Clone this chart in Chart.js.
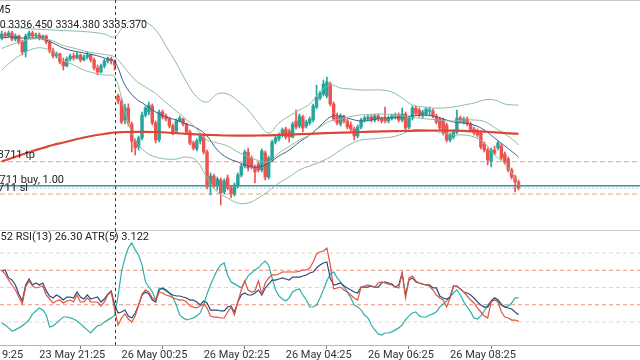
<!DOCTYPE html>
<html>
<head>
<meta charset="utf-8">
<title>XAUUSD M5</title>
<script src="https://cdn.jsdelivr.net/npm/chart.js@4.4.1/dist/chart.umd.min.js"></script>
<style>
  html, body { margin: 0; padding: 0; background: #fff; }
  canvas { display: block; }
</style>
</head>
<body>
<canvas id="chart" width="640" height="360"></canvas>
<script>
// -------------------- DATA --------------------
const slotCount = 187; // 5-minute slots across the window
const tickSlots = [-13, 11, 35, 59, 83, 107, 131];
const tickLabels = ["23 May 19:25", "23 May 21:25", "26 May 00:25", "26 May 02:25", "26 May 04:25", "26 May 06:25", "26 May 08:25"];

const opens = [
  3340.8, 3341.6, 3341.2, 3341.8, 3340.6, 3341.2, 3340.0, 3338.0, 3341.2, 3341.8,
  3341.2, 3341.4, 3340.8, 3341.2, 3340.0, 3338.2, 3337.2, 3337.6, 3336.0, 3335.2,
  3336.6, 3337.2, 3336.8, 3337.4, 3336.4, 3337.0, 3337.4, 3336.4, 3334.8, 3334.0,
  3335.2, 3336.2, 3336.6, 3336.04, 3329.2, 3328.2, 3324.4, 3326.8, 3323.6, 3320.2,
  3319.0, 3320.8, 3325.4, 3326.0, 3327.2, 3323.8, 3320.4, 3326.0, 3325.2, 3324.6,
  3323.2, 3322.2, 3324.2, 3324.6, 3323.6, 3322.0, 3319.8, 3318.6, 3320.2, 3321.0,
  3318.0, 3311.6, 3313.2, 3311.4, 3312.4, 3310.0, 3312.8, 3310.8, 3309.6, 3311.2,
  3313.4, 3315.2, 3318.0, 3316.8, 3315.0, 3315.6, 3314.4, 3317.8, 3313.0, 3316.4,
  3320.0, 3320.6, 3321.4, 3322.6, 3322.2, 3321.0, 3324.2, 3323.2, 3325.0, 3323.2,
  3323.8, 3324.4, 3327.0, 3328.8, 3329.6, 3329.2, 3331.6, 3327.6, 3325.0, 3323.6,
  3325.0, 3324.2, 3323.4, 3322.6, 3321.2, 3323.0, 3324.4, 3324.6, 3325.0, 3324.4,
  3325.2, 3324.6, 3324.8, 3324.2, 3324.8, 3325.2, 3325.4, 3324.4, 3325.6, 3323.0,
  3324.8, 3326.8, 3326.4, 3325.4, 3325.6, 3326.2, 3326.2, 3325.2, 3324.6, 3324.4,
  3323.4, 3320.4, 3321.0, 3322.0, 3324.8, 3324.0, 3324.6, 3323.6, 3322.6, 3322.2,
  3321.8, 3319.6, 3318.4, 3316.2, 3318.4, 3318.8, 3319.2, 3317.6, 3316.6, 3314.4,
  3313.0, 3312.0
];
const highs = [
  3342.2, 3342.0, 3342.2, 3342.2, 3341.6, 3341.4, 3340.4, 3341.6, 3342.2, 3342.2,
  3341.8, 3341.8, 3341.4, 3341.4, 3340.4, 3338.8, 3338.0, 3337.8, 3336.8, 3337.0,
  3337.6, 3337.8, 3338.0, 3337.6, 3337.4, 3338.0, 3337.6, 3336.8, 3335.4, 3335.6,
  3336.6, 3337.0, 3337.0, 3336.45, 3329.6, 3328.8, 3327.6, 3327.6, 3324.0, 3320.6,
  3321.2, 3326.0, 3327.2, 3328.0, 3327.6, 3324.2, 3326.4, 3326.4, 3325.6, 3325.0,
  3323.6, 3324.6, 3325.2, 3324.8, 3323.8, 3322.4, 3320.2, 3320.6, 3321.6, 3321.4,
  3318.4, 3313.8, 3313.6, 3313.0, 3312.8, 3312.6, 3313.4, 3311.2, 3311.8, 3313.8,
  3315.6, 3318.4, 3318.8, 3317.2, 3315.4, 3316.0, 3318.6, 3318.2, 3317.2, 3320.4,
  3321.2, 3321.8, 3322.8, 3323.0, 3322.6, 3324.0, 3326.4, 3325.6, 3325.4, 3324.4,
  3325.0, 3327.6, 3331.4, 3330.2, 3332.4, 3333.0, 3332.0, 3328.0, 3325.8, 3325.6,
  3325.4, 3324.6, 3324.0, 3323.0, 3323.4, 3324.8, 3325.2, 3325.4, 3325.4, 3325.6,
  3325.6, 3325.0, 3327.0, 3325.2, 3325.6, 3325.8, 3325.8, 3326.8, 3326.0, 3325.2,
  3327.2, 3327.2, 3326.8, 3326.4, 3327.0, 3327.0, 3326.6, 3325.6, 3325.0, 3324.8,
  3323.8, 3321.8, 3322.4, 3326.4, 3325.2, 3325.0, 3325.0, 3324.0, 3323.0, 3322.6,
  3322.2, 3320.0, 3318.8, 3318.8, 3319.2, 3320.2, 3319.6, 3318.0, 3317.0, 3314.8,
  3313.4, 3312.4
];
const lows = [
  3340.4, 3340.8, 3341.0, 3340.2, 3340.2, 3339.6, 3337.4, 3337.0, 3340.8, 3340.8,
  3340.8, 3340.4, 3340.4, 3339.6, 3337.8, 3336.8, 3336.8, 3335.6, 3334.4, 3335.0,
  3336.2, 3336.4, 3336.6, 3336.0, 3336.2, 3336.6, 3336.0, 3334.4, 3333.4, 3333.8,
  3334.8, 3335.8, 3335.6, 3334.38, 3327.6, 3323.6, 3323.6, 3323.2, 3318.0, 3317.4,
  3318.4, 3320.4, 3325.0, 3325.4, 3323.4, 3319.8, 3320.0, 3324.6, 3324.2, 3322.8,
  3321.4, 3321.8, 3324.0, 3323.2, 3321.6, 3319.4, 3318.4, 3318.2, 3319.6, 3317.6,
  3310.6, 3309.4, 3310.8, 3310.4, 3307.4, 3309.6, 3310.4, 3308.8, 3309.2, 3310.8,
  3313.0, 3314.8, 3314.2, 3314.6, 3311.8, 3314.0, 3314.0, 3312.4, 3312.6, 3316.0,
  3319.6, 3320.2, 3321.0, 3320.6, 3320.0, 3320.8, 3322.6, 3322.8, 3322.0, 3322.8,
  3323.4, 3324.0, 3326.6, 3328.4, 3329.2, 3328.8, 3327.2, 3324.2, 3323.4, 3323.2,
  3323.8, 3322.6, 3322.2, 3320.4, 3320.8, 3322.6, 3324.0, 3324.2, 3324.0, 3324.0,
  3324.2, 3323.8, 3323.8, 3323.8, 3324.4, 3324.6, 3324.0, 3324.0, 3322.2, 3322.6,
  3324.4, 3325.4, 3325.0, 3324.8, 3325.2, 3325.2, 3324.8, 3323.6, 3322.4, 3321.4,
  3320.0, 3320.0, 3320.6, 3321.6, 3323.8, 3323.6, 3323.2, 3322.0, 3321.4, 3321.0,
  3318.6, 3318.0, 3315.4, 3315.0, 3317.4, 3318.4, 3316.4, 3315.6, 3314.0, 3312.6,
  3310.0, 3310.4
];
const closes = [
  3341.6, 3341.2, 3341.8, 3340.6, 3341.2, 3340.0, 3338.0, 3341.2, 3341.8, 3341.2,
  3341.4, 3340.8, 3341.2, 3340.0, 3338.2, 3337.2, 3337.6, 3336.0, 3335.2, 3336.6,
  3337.2, 3336.8, 3337.4, 3336.4, 3337.0, 3337.4, 3336.4, 3334.8, 3334.0, 3335.2,
  3336.2, 3336.6, 3336.2, 3335.37, 3328.2, 3324.0, 3326.8, 3323.8, 3320.2, 3318.8,
  3320.8, 3325.4, 3326.8, 3327.4, 3323.8, 3320.4, 3326.0, 3325.0, 3324.6, 3323.2,
  3322.0, 3324.2, 3324.8, 3323.6, 3322.0, 3319.8, 3318.8, 3320.2, 3321.2, 3318.0,
  3311.2, 3313.2, 3311.4, 3312.6, 3309.8, 3312.2, 3310.8, 3309.6, 3311.4, 3313.4,
  3315.2, 3318.0, 3314.8, 3315.0, 3314.0, 3314.4, 3318.2, 3313.0, 3316.8, 3320.0,
  3320.8, 3321.4, 3322.4, 3321.0, 3321.0, 3323.6, 3323.0, 3325.2, 3322.8, 3324.0,
  3324.6, 3327.2, 3329.0, 3329.8, 3331.6, 3332.0, 3327.6, 3324.6, 3323.8, 3325.2,
  3324.2, 3323.0, 3322.6, 3321.2, 3323.0, 3324.4, 3324.8, 3325.0, 3324.4, 3325.2,
  3324.6, 3324.2, 3324.2, 3324.8, 3325.2, 3325.4, 3324.4, 3325.6, 3322.8, 3324.8,
  3326.8, 3325.8, 3325.4, 3326.0, 3326.6, 3326.4, 3325.2, 3324.0, 3322.8, 3321.8,
  3320.4, 3321.4, 3322.0, 3324.8, 3324.2, 3324.6, 3323.6, 3322.4, 3321.8, 3321.4,
  3319.0, 3318.4, 3316.4, 3318.4, 3317.8, 3319.8, 3316.8, 3316.0, 3314.4, 3313.0,
  3312.0, 3310.8
];

// overlay lines, read every third slot (plus the last candle)
const lineSlots = Array.from({length: 51}, (_, i) => i * 3).concat([151]);
const maSlow = [
  3316.1, 3316.8, 3317.5, 3318.2, 3318.8, 3319.4, 3319.9, 3320.4, 3320.9, 3321.3,
  3321.6, 3321.9, 3322.0, 3322.04, 3322.04, 3322.0, 3321.9, 3321.76, 3321.64, 3321.54,
  3321.44, 3321.36, 3321.3, 3321.28, 3321.28, 3321.3, 3321.34, 3321.4, 3321.48, 3321.56,
  3321.64, 3321.72, 3321.8, 3321.86, 3321.92, 3322.0, 3322.06, 3322.12, 3322.16, 3322.2,
  3322.24, 3322.28, 3322.3, 3322.3, 3322.28, 3322.24, 3322.16, 3322.06, 3321.94, 3321.8,
  3321.68, 3321.64
];
const bbUpper = [
  3343.0, 3342.9, 3342.8, 3342.6, 3342.5, 3342.4, 3342.3, 3342.2, 3342.1, 3341.9,
  3341.6, 3341.0, 3343.6, 3344.4, 3344.0, 3342.4, 3339.2, 3335.8, 3332.0, 3329.0,
  3328.0, 3329.6, 3329.6, 3328.2, 3326.4, 3323.8, 3321.8, 3323.8, 3325.2, 3326.4,
  3327.6, 3330.0, 3331.4, 3330.8, 3330.6, 3330.4, 3330.4, 3330.4, 3330.0, 3328.8,
  3327.4, 3327.0, 3326.8, 3326.8, 3327.0, 3327.4, 3327.8, 3328.4, 3328.4, 3327.6,
  3327.4, 3327.4
];
const bbMiddle = [
  3338.7, 3339.5, 3340.2, 3340.6, 3340.6, 3340.2, 3339.3, 3338.8, 3338.2, 3337.8,
  3337.5, 3337.0, 3334.8, 3332.4, 3331.0, 3329.7, 3327.9, 3326.2, 3324.5, 3322.6,
  3320.4, 3319.8, 3319.2, 3318.0, 3317.1, 3316.3, 3316.0, 3317.8, 3319.1, 3320.4,
  3321.4, 3323.0, 3324.2, 3324.6, 3325.1, 3325.4, 3325.5, 3325.6, 3325.5, 3325.2,
  3324.9, 3324.7, 3324.5, 3324.3, 3324.2, 3324.4, 3324.4, 3324.1, 3322.9, 3321.6,
  3320.1, 3319.4
];
const bbLower = [
  3334.4, 3336.2, 3337.6, 3338.6, 3338.8, 3338.0, 3336.4, 3335.4, 3334.4, 3333.8,
  3333.4, 3333.0, 3326.0, 3320.4, 3318.0, 3317.0, 3316.6, 3316.6, 3317.0, 3316.2,
  3312.8, 3310.0, 3308.8, 3307.8, 3307.8, 3308.8, 3310.2, 3311.8, 3313.0, 3314.4,
  3315.2, 3316.0, 3317.0, 3318.4, 3319.6, 3320.4, 3320.6, 3320.8, 3321.0, 3321.6,
  3322.4, 3322.4, 3322.2, 3321.8, 3321.4, 3321.4, 3321.0, 3319.8, 3317.4, 3315.6,
  3312.8, 3311.4
];
const maFast = [
  3340.8, 3341.0, 3340.8, 3340.8, 3340.6, 3339.8, 3338.8, 3338.2, 3337.8, 3337.4,
  3336.8, 3336.0, 3331.4, 3328.8, 3327.4, 3326.0, 3325.0, 3324.4, 3323.6, 3322.8,
  3321.2, 3318.4, 3316.8, 3316.0, 3315.2, 3315.0, 3315.8, 3317.2, 3318.4, 3320.0,
  3321.4, 3323.2, 3325.0, 3325.2, 3324.6, 3324.2, 3324.4, 3324.8, 3324.8, 3325.0,
  3325.2, 3325.4, 3325.2, 3324.6, 3324.0, 3323.8, 3323.4, 3322.4, 3320.8, 3319.2,
  3317.6, 3317.0
];

// indicator pane
const rsiFast = [
  65.2, 61.7, 56.5, 52.2, 47.8, 41.7, 35.7, 50.4, 55.7, 51.3,
  49.6, 50.4, 51.3, 43.5, 40.0, 36.5, 38.3, 39.1, 36.5, 38.3,
  39.1, 37.4, 43.5, 37.4, 37.4, 40.9, 37.4, 37.4, 37.4, 33.9,
  37.4, 43.5, 46.1, 30.4, 17.4, 23.5, 27.0, 22.6, 20.0, 25.2,
  34.8, 44.3, 47.8, 46.1, 40.9, 39.1, 46.1, 45.2, 43.5, 42.6,
  40.9, 40.0, 39.1, 39.1, 37.4, 33.9, 33.0, 32.2, 33.9, 35.7,
  32.2, 25.2, 24.3, 24.3, 23.5, 23.5, 28.7, 33.0, 26.1, 37.4,
  47.8, 55.7, 47.8, 46.1, 47.0, 55.7, 44.3, 53.9, 58.3, 60.9,
  60.9, 61.7, 63.5, 63.5, 63.5, 63.5, 63.5, 64.3, 65.2, 65.2,
  67.0, 72.2, 79.1, 80.9, 81.7, 84.3, 69.6, 48.7, 49.6, 50.4,
  47.8, 46.1, 43.5, 40.9, 39.1, 50.4, 51.3, 52.2, 51.3, 50.4,
  53.9, 54.8, 53.9, 53.0, 52.2, 50.4, 49.6, 62.6, 40.9, 58.3,
  60.0, 55.7, 53.9, 53.0, 52.2, 51.3, 47.8, 43.5, 40.9, 39.1,
  33.0, 40.9, 51.3, 51.3, 48.7, 46.1, 42.6, 39.1, 36.5, 32.2,
  28.7, 25.2, 23.5, 37.4, 39.1, 37.4, 28.7, 24.3, 23.5, 21.7,
  21.7, 20.52
];
const rsi13 = [
  64.3, 65.2, 58.3, 56.5, 52.2, 44.3, 38.3, 52.2, 57.4, 52.2,
  53.9, 52.2, 53.9, 47.0, 42.6, 40.9, 43.5, 41.7, 39.1, 41.7,
  41.7, 40.9, 46.1, 41.7, 40.0, 43.5, 40.0, 40.9, 41.7, 37.4,
  40.0, 44.3, 47.0, 34.8, 27.8, 28.7, 30.4, 25.2, 23.5, 27.8,
  34.8, 43.5, 46.1, 44.3, 39.1, 37.4, 47.8, 49.6, 47.8, 45.2,
  43.5, 42.6, 42.6, 41.7, 40.9, 39.1, 39.1, 37.4, 34.8, 38.3,
  36.5, 30.4, 30.4, 30.4, 29.6, 29.6, 33.0, 33.9, 28.7, 37.4,
  43.5, 45.2, 43.5, 43.5, 45.2, 47.8, 43.5, 49.6, 53.0, 56.5,
  56.5, 57.4, 58.3, 57.4, 56.5, 59.1, 59.1, 59.1, 60.0, 60.9,
  62.6, 63.5, 67.0, 69.6, 71.3, 72.2, 58.0, 52.2, 53.0, 53.9,
  51.3, 49.6, 47.8, 46.1, 45.2, 50.4, 50.4, 50.4, 51.3, 50.4,
  50.4, 53.9, 54.8, 53.9, 53.0, 50.4, 52.2, 62.6, 43.5, 56.5,
  58.3, 54.8, 53.9, 53.0, 52.2, 52.2, 49.6, 49.6, 42.6, 40.9,
  40.0, 41.7, 51.3, 51.3, 48.7, 46.1, 45.2, 43.5, 40.9, 37.4,
  34.8, 33.0, 33.0, 38.3, 40.9, 39.1, 34.8, 33.0, 32.2, 31.3,
  28.7, 26.30
];
const atr5 = [
  1.99, 1.90, 1.77, 1.63, 1.68, 1.77, 1.86, 1.99, 2.13, 2.40,
  2.53, 2.67, 2.58, 2.35, 1.81, 1.86, 1.99, 2.13, 2.26, 2.26,
  2.22, 2.17, 2.08, 1.95, 1.81, 1.68, 1.54, 1.72, 1.86, 1.90,
  2.04, 2.13, 2.22, 2.35, 3.21, 4.29, 4.92, 5.37, 5.59, 5.28,
  5.05, 4.60, 3.84, 3.61, 3.39, 3.03, 3.57, 3.52, 3.43, 3.34,
  3.16, 2.80, 2.35, 2.22, 2.13, 2.17, 2.22, 2.31, 2.44, 2.80,
  3.30, 3.70, 4.06, 4.38, 4.60, 4.69, 4.15, 3.84, 3.75, 3.66,
  3.57, 3.84, 4.11, 4.24, 4.38, 4.47, 4.65, 4.78, 4.60, 4.02,
  3.48, 3.21, 3.07, 2.98, 3.12, 3.39, 3.48, 3.52, 3.25, 3.03,
  2.71, 2.71, 2.80, 3.12, 3.48, 3.88, 4.20, 4.29, 4.02, 3.84,
  3.61, 3.39, 3.12, 2.80, 2.71, 2.58, 2.35, 2.22, 1.90, 1.68,
  1.50, 1.45, 1.54, 1.54, 1.59, 1.68, 1.77, 1.90, 2.13, 2.31,
  2.44, 2.49, 2.31, 2.26, 2.26, 2.35, 2.40, 2.49, 2.71, 2.85,
  2.98, 3.16, 3.34, 3.48, 3.25, 2.94, 2.71, 2.49, 2.22, 2.17,
  2.31, 2.53, 2.80, 2.94, 3.12, 3.03, 2.85, 2.71, 2.76, 2.89,
  3.12, 3.122
];
const rsiLevels = [80, 65, 50, 35, 20];

// open position and cursor
const tpPrice = 3316.05;
const buyPrice = 3311.26;
const bidPrice = 3310.8;
const slPrice = 3309.6;
const crossSlot = 33;

// -------------------- HELPERS --------------------
const UP = "#26a69a", DOWN = "#ef5350";
const candleColors = opens.map((o, i) => closes[i] < o ? DOWN : UP);
const toPoints = vals => vals.map((v, i) => ({x: lineSlots[i], y: v}));
const hLine = v => [{x: -0.5, y: v}, {x: slotCount - 0.5, y: v}];

function overlay(label, vals, color, width){
    return {type: "line", label, data: toPoints(vals), yAxisID: "y", borderColor: color,
        borderWidth: width, pointRadius: 0, tension: 0.4, order: 1};
}
function level(label, v, axis, color, dash, width = 1){
    return {type: "line", label, data: hLine(v), yAxisID: axis, borderColor: color,
        borderWidth: width, borderDash: dash, pointRadius: 0, order: 9};
}
function indicator(label, vals, axis, color){
    return {type: "line", label, data: vals, yAxisID: axis, borderColor: color,
        borderWidth: 1.2, pointRadius: 0, tension: 0, order: 2};
}

// -------------------- FRAME & TEXT --------------------
const framePlugin = {
    id: "frame",
    afterDatasetsDraw(chart){
        const {ctx, chartArea: a, scales} = chart;
        const y = scales.y, yr = scales.yr, x = scales.x;
        ctx.save();
        ctx.strokeStyle = "#c9c9c9";
        ctx.lineWidth = 1;
        ctx.beginPath();
        ctx.moveTo(a.left, 0.5); ctx.lineTo(a.right, 0.5);
        const sep = Math.round(y.bottom) + 0.5;
        ctx.moveTo(a.left, sep); ctx.lineTo(a.right, sep);
        ctx.stroke();

        // cursor line
        const cx = Math.round(x.getPixelForValue(crossSlot)) + 0.5;
        ctx.strokeStyle = "#3a3a3a";
        ctx.setLineDash([3, 3]);
        ctx.beginPath(); ctx.moveTo(cx, a.top); ctx.lineTo(cx, a.bottom); ctx.stroke();
        ctx.setLineDash([]);

        ctx.fillStyle = "#222";
        ctx.textAlign = "right";
        ctx.textBaseline = "middle";
        ctx.font = "11px Roboto";
        ctx.fillText("XAUUSD, M5", 10.5, 10);
        const c = crossSlot;
        ctx.font = "10.6px Roboto";
        ctx.fillText([opens[c], highs[c], lows[c], closes[c]].map(v => v.toFixed(3)).join(" "), 147, 25);

        ctx.font = "11px Roboto";
        ctx.fillText("3711 tp", 35, y.getPixelForValue(tpPrice) - 6.5);
        ctx.fillText("3711 buy, 1.00", 64, y.getPixelForValue(buyPrice) - 5.5);
        ctx.fillText("3711 sl", 28, y.getPixelForValue(slPrice) - 6);

        const n = closes.length - 1;
        ctx.fillText("RSI(7) " + rsiFast[n].toFixed(2) + " RSI(13) " + rsi13[n].toFixed(2) + " ATR(5) " + atr5[n].toFixed(3), 149, yr.top + 7.5);
        ctx.restore();
    }
};

// -------------------- CHART --------------------
new Chart(document.getElementById("chart"), {
    type: "bar",
    data: {
        labels: Array.from({length: slotCount}, (_, i) => i),
        datasets: [
            indicator("RSI(7)", rsiFast, "yr", "#e0533f"),
            indicator("RSI(13)", rsi13, "yr", "#2e4a7b"),
            indicator("ATR(5)", atr5, "ya", "#2eb0a8"),

            overlay("MA slow", maSlow, "#d9473a", 2.2),
            overlay("BB upper", bbUpper, "#8dbb9e", 1),
            overlay("BB middle", bbMiddle, "#8dbb9e", 1),
            overlay("BB lower", bbLower, "#8dbb9e", 1),
            overlay("MA fast", maFast, "#3d5c8e", 1),

            {type: "bar", label: "wick", data: lows.map((l, i) => [l, highs[i]]), yAxisID: "y",
             backgroundColor: candleColors, barThickness: 1, grouped: false, borderWidth: 0, order: 5},
            {type: "bar", label: "body", data: opens.map((o, i) => [o, closes[i]]), yAxisID: "y",
             backgroundColor: candleColors, barThickness: 2.8, grouped: false, borderWidth: 0, order: 5},

            level("tp", tpPrice, "y", "#e6a386", [5, 3]),
            level("buy", buyPrice, "y", "#3596a0", [], 1.5),
            level("bid", bidPrice, "y", "#9fd3e6", [2, 2]),
            level("sl", slPrice, "y", "#e6a386", [5, 3]),
            ...rsiLevels.map(v => level("level " + v, v, "yr", (v === 65 || v === 35) ? "#e8907f" : "#ead0cc", [4, 3]))
        ]
    },
    options: {
        responsive: false,
        devicePixelRatio: 1,
        animation: false,
        events: [],
        layout: {padding: 0},
        plugins: {legend: {display: false}, tooltip: {enabled: false}},
        scales: {
            x: {
                type: "linear", min: -0.5, max: slotCount - 0.5, offset: false, bounds: "data",
                afterBuildTicks: s => { s.ticks = tickSlots.map(v => ({value: v})); },
                afterFit: s => { s.height = 15; s.paddingLeft = 0; s.paddingRight = 0; },
                grid: {drawOnChartArea: false, tickLength: 4, color: "#777"},
                border: {color: "#b8b8b8"},
                ticks: {autoSkip: false, align: "start", padding: 0, maxRotation: 0, color: "#333",
                        font: {family: "Roboto", size: 11},
                        callback: v => tickLabels[tickSlots.indexOf(v)]}
            },
            yr: {type: "linear", position: "left", stack: "pane", stackWeight: 1, weight: 1,
                 min: 0, max: 100, display: false},
            y: {type: "linear", position: "left", stack: "pane", stackWeight: 2, weight: 2,
                min: 3302.4, max: 3348.4, display: false},
            ya: {type: "linear", position: "right", min: 1, max: 16.525, display: false}
        }
    },
    plugins: [framePlugin]
});
</script>
</body>
</html>
